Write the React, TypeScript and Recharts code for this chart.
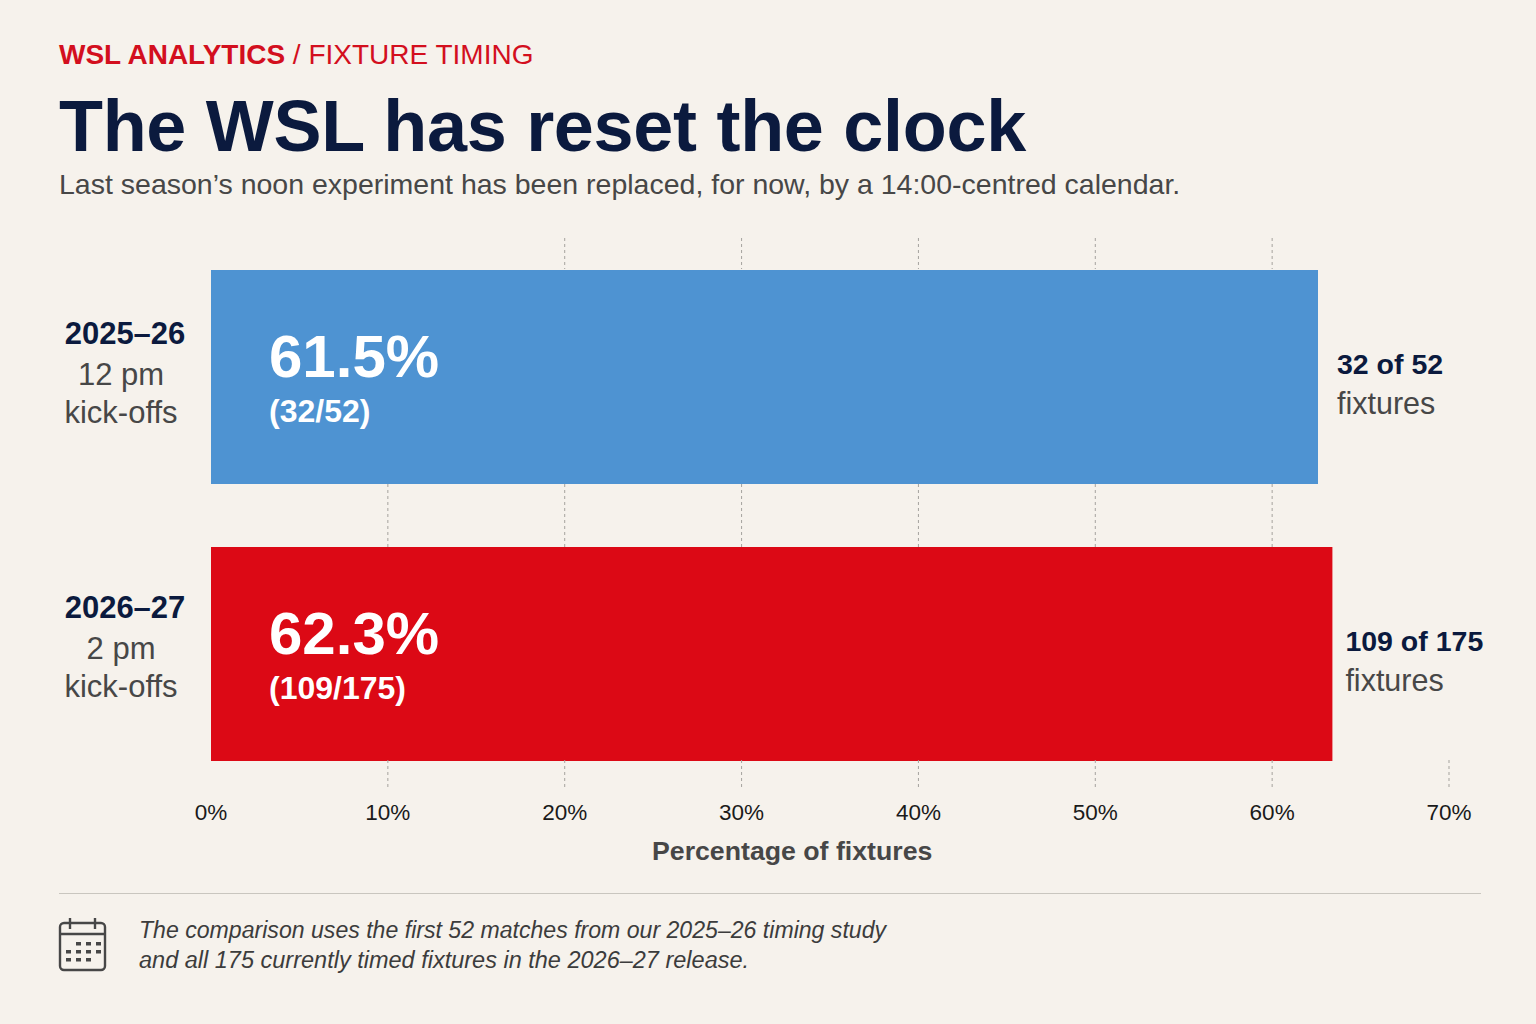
import React from "react";
import { ComposedChart, Bar, Line, XAxis, YAxis, Cell, LabelList, ReferenceLine } from "recharts";

const seasons = ["2025–26", "2026–27"];
const kickoffs = ["12 pm", "2 pm"];
const shares = [61.5, 62.3];
const counts = ["32/52", "109/175"];
const countPhrases = ["32 of 52", "109 of 175"];
const barColors = ["#4e93d2", "#dc0915"];
const tickValues = [0, 10, 20, 30, 40, 50, 60, 70];
const topGridTicks = [20, 30, 40, 50, 60];
const gapGridTicks = [10, 20, 30, 40, 50, 60];
const bottomGridTicks = [10, 20, 30, 40, 50, 60, 70];

const rows = seasons.map((season, i) => ({ season, share: shares[i] }));

const FONT = "'Liberation Sans', Arial, sans-serif";
const NAVY = "#0b1a3e";
const GREY = "#474747";
const RED = "#d30f1e";

const abs = (left: number, top: number, style: React.CSSProperties): React.CSSProperties => ({
  position: "absolute",
  left,
  top,
  whiteSpace: "nowrap",
  lineHeight: 1,
  fontFamily: FONT,
  ...style,
});

function SeasonTick(props: any) {
  const i = seasons.indexOf(props.payload.value);
  const y = props.y;
  const cx = 121;
  const nudge = i === 1 ? -3 : 0;
  return (
    <g fontFamily={FONT} textAnchor="middle" dominantBaseline="central">
      <text x={cx + 4} y={y - 43 + nudge} fontSize={31} fontWeight={700} fill={NAVY}>{seasons[i]}</text>
      <text x={cx} y={y - 2 + nudge} fontSize={31} fill={GREY}>{kickoffs[i]}</text>
      <text x={cx} y={y + 36 + nudge} fontSize={31} fill={GREY}>kick-offs</text>
    </g>
  );
}

function InnerLabel(props: any) {
  const { x, y, height, index } = props;
  const cy = y + height / 2;
  return (
    <g fontFamily={FONT} fill="#ffffff" fontWeight={700}>
      <text x={x + 58} y={cy - 21} fontSize={60} dominantBaseline="central">{shares[index].toFixed(1)}%</text>
      <text x={x + 58} y={cy + 34} fontSize={32} dominantBaseline="central">({counts[index]})</text>
    </g>
  );
}

function OuterLabel(props: any) {
  const { x, y, width, height, index } = props;
  const cy = y + height / 2;
  const lx = x + width + (index === 0 ? 19 : 13);
  return (
    <g fontFamily={FONT}>
      <text x={lx} y={cy - 13} fontSize={28.5} fontWeight={700} fill={NAVY} dominantBaseline="central">{countPhrases[index]}</text>
      <text x={lx} y={cy + 26} fontSize={30.5} fill={GREY} dominantBaseline="central">fixtures</text>
    </g>
  );
}

const gridShape = (value: number) => (props: any) => {
  const { x1, y1, y2 } = props;
  const top = Math.min(y1, y2);
  const spans: number[][] = [];
  if (topGridTicks.includes(value)) spans.push([0, 31]);
  if (gapGridTicks.includes(value)) spans.push([246, 309]);
  if (bottomGridTicks.includes(value)) spans.push([522, 550]);
  return (
    <g>
      {spans.map(([a, b]) => (
        <line key={a} x1={x1} x2={x1} y1={top + a} y2={top + b} stroke="#a5a39e" strokeWidth={1} strokeDasharray="3 3" />
      ))}
    </g>
  );
};

function CalendarIcon() {
  const cells = [
    [76, 942], [86, 942], [96, 942],
    [66, 950], [76, 950], [86, 950], [96, 950],
    [66, 958], [76, 958], [86, 958],
  ];
  return (
    <svg width={1536} height={1024} style={{ position: "absolute", left: 0, top: 0, pointerEvents: "none" }}>
      <rect x={60} y={923} width={45} height={47} rx={4} fill="none" stroke="#474747" strokeWidth={2.4} />
      <line x1={60} x2={105} y1={934} y2={934} stroke="#474747" strokeWidth={2.4} />
      <line x1={70} x2={70} y1={918} y2={929} stroke="#474747" strokeWidth={2.4} />
      <line x1={95} x2={95} y1={918} y2={929} stroke="#474747" strokeWidth={2.4} />
      {cells.map(([x, y]) => (
        <rect key={`${x}-${y}`} x={x} y={y} width={5} height={3.5} fill="#474747" />
      ))}
    </svg>
  );
}

export default function App() {
  return (
    <div style={{ position: "absolute", left: 0, top: 0, width: 1536, height: 1024, background: "#f6f2ec", overflow: "hidden" }}>
      <ComposedChart
        width={1536}
        height={1024}
        data={rows}
        layout="vertical"
        barSize={214}
        margin={{ top: 238, right: 65, bottom: 182, left: 0 }}
        style={{ position: "absolute", left: 0, top: 0 }}
      >
        <XAxis xAxisId="bars" type="number" domain={[0, 70]} hide height={0} />
        <XAxis
          xAxisId="ticks"
          type="number"
          domain={[0, 70]}
          ticks={tickValues}
          padding={{ left: 0, right: 22 }}
          height={50}
          axisLine={false}
          tickLine={false}
          interval={0}
          tickFormatter={(v: number) => `${v}%`}
          tick={{ fontFamily: FONT, fontSize: 22.5, fill: "#1a1a1a" }}
          tickMargin={6}
        />
        <YAxis type="category" dataKey="season" width={211} axisLine={false} tickLine={false} tick={<SeasonTick />} />
        {bottomGridTicks.map((v) => (
          <ReferenceLine key={v} xAxisId="ticks" x={v} shape={gridShape(v)} />
        ))}
        <Line xAxisId="ticks" dataKey="share" stroke="none" dot={false} activeDot={false} legendType="none" isAnimationActive={false} />
        <Bar xAxisId="bars" dataKey="share" isAnimationActive={false}>
          {rows.map((r, i) => (
            <Cell key={r.season} fill={barColors[i]} />
          ))}
          <LabelList dataKey="share" content={<InnerLabel />} />
          <LabelList dataKey="share" content={<OuterLabel />} />
        </Bar>
      </ComposedChart>

      <div style={abs(59, 41, { fontSize: 28, color: RED })}>
        <b>WSL ANALYTICS</b> / FIXTURE TIMING
      </div>
      <div style={abs(59, 90, { fontSize: 72, fontWeight: 700, color: NAVY, letterSpacing: -0.3 })}>The WSL has reset the clock</div>
      <div style={abs(59, 170, { fontSize: 28.5, color: GREY })}>Last season’s noon experiment has been replaced, for now, by a 14:00-centred calendar.</div>
      <div style={abs(652, 838, { fontSize: 26.7, fontWeight: 700, color: GREY })}>Percentage of fixtures</div>
      <div style={{ position: "absolute", left: 59, top: 893, width: 1422, height: 1, background: "#c9c6bf" }} />
      <CalendarIcon />
      <div style={abs(139, 919, { fontSize: 23.1, fontStyle: "italic", color: "#3c3c3c" })}>The comparison uses the first 52 matches from our 2025–26 timing study</div>
      <div style={abs(139, 949, { fontSize: 23.5, fontStyle: "italic", color: "#3c3c3c" })}>and all 175 currently timed fixtures in the 2026–27 release.</div>
    </div>
  );
}
